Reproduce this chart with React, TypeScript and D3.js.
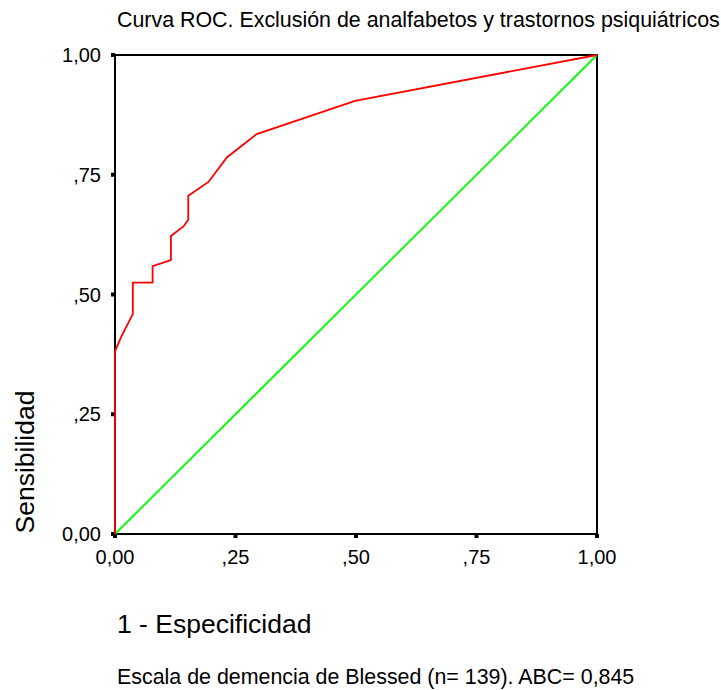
import React from 'react'
import * as d3 from 'd3'

// ROC curve points (1 - especificidad, sensibilidad)
const fpr = [0, 0, 0.013, 0.037, 0.037, 0.078, 0.078, 0.116, 0.116, 0.142, 0.152, 0.152, 0.194, 0.232, 0.294, 0.498, 1]
const tpr = [0, 0.381, 0.412, 0.459, 0.525, 0.525, 0.559, 0.572, 0.622, 0.642, 0.656, 0.706, 0.735, 0.786, 0.835, 0.904, 1]
const diagonal = [0, 1]
const tickValues = [0, 0.25, 0.5, 0.75, 1]
const tickLabels = ['0,00', ',25', ',50', ',75', '1,00']

const title = 'Curva ROC. Exclusión de analfabetos y trastornos psiquiátricos'
const xTitle = '1 - Especificidad'
const yTitle = 'Sensibilidad'
const footer = 'Escala de demencia de Blessed (n= 139). ABC= 0,845'

const width = 721
const height = 690
const margin = { top: 55, right: 124, bottom: 156, left: 115 }
const font = '"Liberation Sans", Arial, Helvetica, sans-serif'

export default function App() {
  const x = d3.scaleLinear().domain([0, 1]).range([margin.left, width - margin.right])
  const y = d3.scaleLinear().domain([0, 1]).range([height - margin.bottom, margin.top])

  const line = d3.line<number>().x((d, i) => x(fpr[i])).y((d, i) => y(tpr[i]))
  const diag = d3.line<number>().x(d => x(d)).y(d => y(d))

  return (
    <svg width={width} height={height} style={{ position: 'absolute', left: 0, top: 0, background: '#fff' }} fontFamily={font}>
      <text x={117} y={27} fontSize={21.4}>{title}</text>

      {/* frame */}
      <rect x={x(0)} y={y(1)} width={x(1) - x(0)} height={y(0) - y(1)} fill="none" stroke="#000" strokeWidth={2} />

      {/* y ticks */}
      {tickValues.map((t, i) => (
        <g key={'y' + i}>
          <rect x={x(0) - 4} y={y(t) - 2} width={4} height={4} fill="#000" />
          <text x={x(0) - 14} y={y(t)} dy="0.35em" textAnchor="end" fontSize={20}>{tickLabels[i]}</text>
        </g>
      ))}

      {/* x ticks */}
      {tickValues.map((t, i) => (
        <g key={'x' + i}>
          <rect x={x(t) - 2} y={y(0)} width={4} height={4} fill="#000" />
          <text x={x(t)} y={y(0) + 30} textAnchor="middle" fontSize={20}>{tickLabels[i]}</text>
        </g>
      ))}

      <path d={diag(diagonal) || ''} fill="none" stroke="#00ff00" strokeWidth={1.8} />
      <path d={line(fpr) || ''} fill="none" stroke="#ff0000" strokeWidth={1.8} />

      <text transform={`translate(34, ${462}) rotate(-90)`} textAnchor="middle" fontSize={26.5}>{yTitle}</text>
      <text x={117} y={633} fontSize={26.5}>{xTitle}</text>
      <text x={117} y={684} fontSize={21.4}>{footer}</text>
    </svg>
  )
}
